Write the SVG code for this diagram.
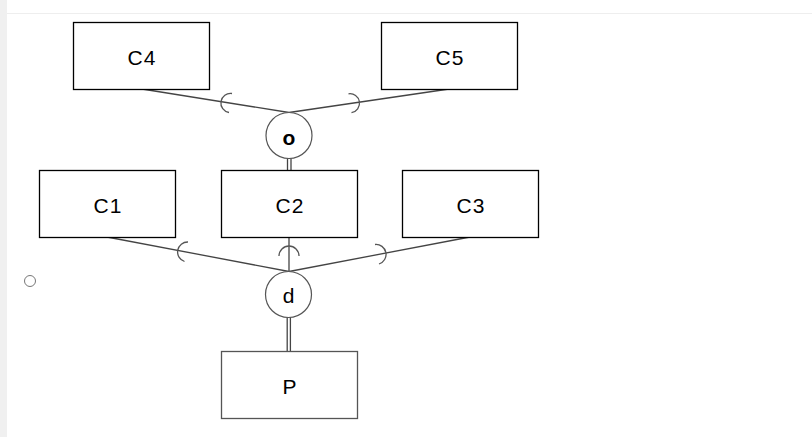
<svg xmlns="http://www.w3.org/2000/svg" width="812" height="437" viewBox="0 0 812 437">
<style>
.box{fill:#fff;stroke:#000;stroke-width:1.3}
.lbl{font-family:"Liberation Sans",Arial,sans-serif;font-size:21px;letter-spacing:1px;fill:#000;text-anchor:middle;dominant-baseline:central}
.circ{fill:#fff;stroke:#555;stroke-width:1.2}
.cl{font-family:"Liberation Sans",Arial,sans-serif;font-size:21px;fill:#000;text-anchor:middle;dominant-baseline:central}
.ln{stroke:#444;stroke-width:1.3;fill:none}
.arc{stroke:#555;stroke-width:1.3;fill:none}
</style>
<rect x="0" y="0" width="812" height="437" fill="#fff"/>
<rect x="0" y="0" width="7" height="437" fill="#f0f0f0"/>
<line x1="7" y1="13.5" x2="812" y2="13.5" stroke="#eee" stroke-width="1"/>
<circle cx="30" cy="281" r="5.5" fill="none" stroke="#777" stroke-width="1"/>
<g id="connectors">
<line class="ln" x1="142" y1="89" x2="289" y2="112.5"/>
<line class="ln" x1="449" y1="89" x2="289" y2="112.5"/>
<path class="arc" d="M229,112.5 A9.5,9.5 0 0 1 232,93.5"/>
<path class="arc" d="M348.5,93.8 A9.5,9.5 0 0 1 351.5,112.6"/>
<line class="ln" x1="287.5" y1="158" x2="287.5" y2="170"/>
<line class="ln" x1="291" y1="158" x2="291" y2="170"/>
<line class="ln" x1="107" y1="237" x2="289" y2="271.5"/>
<line class="ln" x1="289" y1="237" x2="289" y2="271.5"/>
<line class="ln" x1="470" y1="237" x2="289" y2="271.5"/>
<path class="arc" d="M184.5,261.5 A10,10 0 0 1 188,242"/>
<path class="arc" d="M279,256 A10,10 0 0 1 299,256"/>
<path class="arc" d="M375,244.5 A10,10 0 0 1 379,264"/>
<line class="ln" x1="287.2" y1="317" x2="287.2" y2="351"/>
<line class="ln" x1="290.4" y1="317" x2="290.4" y2="351"/>
</g>
<g id="C4"><rect class="box" x="73.5" y="22.5" width="136" height="67"/><text class="lbl" x="142" y="57">C4</text></g>
<g id="C5"><rect class="box" x="381.5" y="22.5" width="136" height="67"/><text class="lbl" x="450" y="57">C5</text></g>
<g id="o"><circle class="circ" cx="289" cy="135.5" r="23"/><text class="cl" x="289" y="137" font-weight="600">o</text></g>
<g id="C1"><rect class="box" x="39.5" y="170.5" width="136" height="67"/><text class="lbl" x="108" y="205">C1</text></g>
<g id="C2"><rect class="box" x="221.5" y="170.5" width="136" height="67"/><text class="lbl" x="290" y="205">C2</text></g>
<g id="C3"><rect class="box" x="402.5" y="170.5" width="136" height="67"/><text class="lbl" x="471" y="205">C3</text></g>
<g id="d"><circle class="circ" cx="288.5" cy="294.5" r="23"/><text class="cl" x="288.5" y="295">d</text></g>
<g id="P"><rect class="box" x="221.5" y="351.5" width="136" height="67" style="stroke:#555"/><text class="lbl" x="290" y="386">P</text></g>
</svg>
